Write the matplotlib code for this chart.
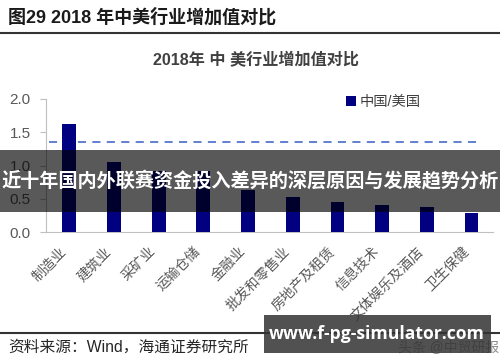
import matplotlib
matplotlib.use("Agg")
import matplotlib.pyplot as plt
from matplotlib.patches import Rectangle
from matplotlib.lines import Line2D

plt.rcParams['font.family'] = ['Liberation Sans', 'Noto Sans CJK SC', 'DejaVu Sans']

categories = ["制造业", "建筑业", "采矿业", "运输仓储", "金融业", "批发和零售业",
              "房地产及租赁", "信息技术", "文体娱乐及酒店", "卫生保健"]
ratio_values = [1.63, 1.05, 0.91, 0.91, 0.63, 0.52, 0.45, 0.40, 0.38, 0.28]
average_value = 1.35
y_ticks = [0.0, 0.5, 1.0, 1.5, 2.0]
y_tick_labels = ["0.0", "0.5", "1.0", "1.5", "2.0"]

W, H = 500, 362
fig = plt.figure(figsize=(W / 100, H / 100), dpi=100)

def fx(px):
    return px / W

def fy(py):
    return 1 - py / H

# Header
fig.text(fx(8), fy(17), "图29 2018 年中美行业增加值对比", fontsize=13, fontweight='bold',
         color='#1a1a1a', va='center', ha='left')
fig.add_artist(Line2D([0, 1], [fy(33), fy(33)], color='#333333', lw=1.5))

# Chart title
fig.text(fx(256), fy(60), "2018年 中 美行业增加值对比", fontsize=11.6, fontweight='bold',
         color='#404040', va='center', ha='center')

ax = fig.add_axes([fx(46), fy(232), fx(493) - fx(46), fy(99) - fy(232)])
x = list(range(len(categories)))
ax.bar(x, ratio_values, width=0.31, color='#000080', label='中国/美国', zorder=3)
ax.plot([-0.45, len(categories) - 0.85], [average_value, average_value], color='#5577cc',
        lw=1.3, dashes=(4.5, 3.5), zorder=2)

ax.set_xlim(-0.52, len(categories) - 0.52)
ax.set_ylim(0, 2.0)
ax.set_yticks(y_ticks)
ax.set_yticklabels(y_tick_labels, fontsize=11, color='#595959')
ax.set_xticks(x)
ax.set_xticklabels(categories, rotation=45, ha='right', va='top', fontsize=10,
                   color='#595959')
for sp in ['top', 'right']:
    ax.spines[sp].set_visible(False)
ax.spines['left'].set_color('#bfbfbf')
ax.spines['bottom'].set_color('#bfbfbf')
ax.tick_params(axis='y', length=4, color='#bfbfbf', pad=7)
ax.tick_params(axis='x', length=0, pad=9)

axw = fx(493) - fx(46)
leg = ax.legend(loc='upper left', bbox_to_anchor=((fx(340) - fx(46)) / axw, 1.07),
                frameon=False, fontsize=10.3, handlelength=0.7, handleheight=0.7,
                handletextpad=0.3, borderaxespad=0)
for t in leg.get_texts():
    t.set_color('#404040')

# Bottom line and source
fig.add_artist(Line2D([0, 1], [fy(333), fy(333)], color='#333333', lw=1.5))
fig.text(fx(8), fy(347), "资料来源：Wind，海通证券研究所", fontsize=11.3, color='#262626',
         va='center', ha='left')
fig.text(fx(398), fy(347), "头条 @中贸研报", fontsize=10, color='#8c8c8c',
         va='center', ha='left')

# Overlay banner
fig.add_artist(Rectangle((0, fy(212)), 1, fy(150) - fy(212), transform=fig.transFigure,
                         facecolor='black', alpha=0.65, edgecolor='none', zorder=10))
fig.text(0.5, fy(181), "近十年国内外联赛资金投入差异的深层原因与发展趋势分析", fontsize=13.8,
         fontweight='bold', color='white', va='center', ha='center', zorder=11,
         family=['Noto Sans CJK SC'])

# Overlay box bottom-right
fig.add_artist(Rectangle((fx(264), fy(353)), fx(491) - fx(264), fy(315) - fy(353),
                         transform=fig.transFigure, facecolor='#333333', alpha=0.85,
                         edgecolor='none', zorder=10))
fig.text(fx(377), fy(334), "www.f-pg-simulator.com", fontsize=12.6, fontweight='bold',
         color='white', va='center', ha='center', zorder=11, family=['Open Sans', 'DejaVu Sans'])

fig.savefig("out.png", dpi=100)
